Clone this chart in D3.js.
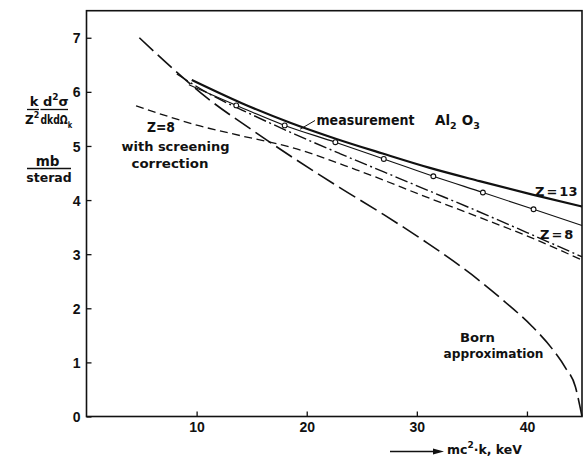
<!DOCTYPE html>
<html lang="en">
<head>
<meta charset="UTF-8" />
<title>Al2O3 bremsstrahlung cross section</title>
<script src="https://d3js.org/d3.v7.min.js"></script>
<style>
    body { margin: 0; background: #fff; }
    .lbl { font-family: "DejaVu Sans", sans-serif; font-weight: bold; fill: #111; }
    .tick text { font-family: "Liberation Sans", Arial, sans-serif; font-weight: bold; font-size: 14px; fill: #111; }
    .tick line { stroke: #111; stroke-width: 1.3; }
    .curve { fill: none; stroke: #111; }
</style>
</head>
<body>
<div id="chart"></div>
<script>
    // ticks
    const xTicks = [10, 20, 30, 40];
    const yTicks = [0, 1, 2, 3, 4, 5, 6, 7];

    // Z = 13, thick solid
    const z13X = [9.56, 14, 18.5, 22.7, 26.9, 31.1, 35.7, 40.5, 45];
    const z13Y = [6.22, 5.80, 5.43, 5.13, 4.86, 4.60, 4.35, 4.10, 3.88];

    // measurement Al2O3, thin solid with circles
    const measX = [9.3, 13.6, 18.0, 22.6, 27.0, 31.5, 36.0, 40.6, 45];
    const measY = [6.13, 5.75, 5.38, 5.07, 4.76, 4.44, 4.14, 3.83, 3.53];
    const measPointsX = [13.6, 18.0, 22.6, 27.0, 31.5, 36.0, 40.6];
    const measPointsY = [5.75, 5.38, 5.07, 4.76, 4.44, 4.14, 3.83];

    // Z = 8, dash-dot
    const z8X = [8.2, 11, 15, 19, 23, 27, 31, 35, 40, 45];
    const z8Y = [6.33, 5.98, 5.58, 5.21, 4.86, 4.52, 4.18, 3.84, 3.40, 2.95];

    // Z = 8 with screening correction, short dashes
    const scrX = [4.5, 7.5, 10.3, 14, 18.5, 24.5, 31.2, 35.7, 40.8, 45];
    const scrY = [5.74, 5.54, 5.37, 5.19, 4.98, 4.56, 4.03, 3.68, 3.27, 2.89];

    // Born approximation, long dashes
    const bornX = [4.8, 8, 11, 15, 19, 23, 27, 31, 35, 38, 40.5, 42.3, 43.5, 44.4, 44.85, 45];
    const bornY = [7.0, 6.40, 5.88, 5.30, 4.75, 4.23, 3.73, 3.20, 2.62, 2.12, 1.66, 1.25, 0.90, 0.55, 0.15, 0.0];

    const width = 583, height = 457;

    const svg = d3.select("#chart").append("svg")
        .attr("width", width)
        .attr("height", height);

    const x = d3.scaleLinear().domain([0, 45]).range([86.5, 582]);
    const y = d3.scaleLinear().domain([0, 7.5]).range([416.5, 10.7]);

    const zip = (xs, ys) => xs.map((v, i) => [v, ys[i]]);

    // frame
    svg.append("rect")
        .attr("x", x(0)).attr("y", y(7.5))
        .attr("width", x(45) - x(0)).attr("height", y(0) - y(7.5))
        .attr("fill", "none").attr("stroke", "#111").attr("stroke-width", 1.6);

    // axes, ticks pointing inward
    const gx = svg.append("g")
        .attr("transform", `translate(0,${y(0)})`)
        .call(d3.axisBottom(x).tickValues(xTicks).tickSize(-5).tickPadding(6));
    gx.select(".domain").remove();

    const gy = svg.append("g")
        .attr("transform", `translate(${x(0)},0)`)
        .call(d3.axisLeft(y).tickValues(yTicks).tickSize(-5).tickPadding(6));
    gy.select(".domain").remove();
    gy.selectAll(".tick text").attr("dy", "0.36em");

    const line = d3.line()
        .x(d => x(d[0]))
        .y(d => y(d[1]))
        .curve(d3.curveMonotoneX);

    svg.append("path").attr("class", "curve")
        .attr("d", line(zip(bornX, bornY)))
        .attr("stroke-width", 1.6)
        .attr("stroke-dasharray", "19,6");

    svg.append("path").attr("class", "curve")
        .attr("d", line(zip(scrX, scrY)))
        .attr("stroke-width", 1.3)
        .attr("stroke-dasharray", "8,4.5");

    svg.append("path").attr("class", "curve")
        .attr("d", line(zip(z8X, z8Y)))
        .attr("stroke-width", 1.4)
        .attr("stroke-dasharray", "13,3.5,2,3.5");

    svg.append("path").attr("class", "curve")
        .attr("d", line(zip(measX, measY)))
        .attr("stroke-width", 1.1);

    svg.append("path").attr("class", "curve")
        .attr("d", line(zip(z13X, z13Y)))
        .attr("stroke-width", 2.2);

    svg.selectAll("circle.pt")
        .data(zip(measPointsX, measPointsY))
        .enter().append("circle")
        .attr("class", "pt")
        .attr("cx", d => x(d[0]))
        .attr("cy", d => y(d[1]))
        .attr("r", 2.4)
        .attr("fill", "#fff")
        .attr("stroke", "#111")
        .attr("stroke-width", 1.1);

    // text helper: position, string, size, anchor, forced width
    const txt = (px, py, s, size, anchor, len) => {
        const t = svg.append("text")
            .attr("class", "lbl")
            .attr("x", px).attr("y", py)
            .attr("font-size", size)
            .attr("text-anchor", anchor || "start")
            .text(s);
        if (len) t.attr("textLength", len).attr("lengthAdjust", "spacingAndGlyphs");
        return t;
    };
    // small raised / lowered piece inside a text
    const sub = (t, s, dy, size) => t.append("tspan").attr("font-size", size || 9).attr("dy", dy).text(s);
    const rule = (x1, x2, yl) => svg.append("line")
        .attr("x1", x1).attr("x2", x2).attr("y1", yl).attr("y2", yl)
        .attr("stroke", "#111").attr("stroke-width", 1.3);

    // annotations
    txt(316.5, 125, "measurement", 13.5, "start", 98);
    const al = txt(435, 125, "Al", 13.5);
    sub(al, "2", 4, 9.5);
    al.append("tspan").attr("dx", 5).attr("dy", -4).text("O");
    sub(al, "3", 4, 9.5);
    // leader from label to measurement curve
    svg.append("line")
        .attr("x1", 315).attr("y1", 120.5)
        .attr("x2", x(19.4)).attr("y2", y(5.31))
        .attr("stroke", "#111").attr("stroke-width", 1);

    txt(535, 195.5, "Z = 13", 13).attr("word-spacing", -2.5);
    txt(540, 238.5, "Z = 8", 13).attr("word-spacing", -2.5);

    txt(147, 132, "Z=8", 13.5, "start", 28);
    txt(121.5, 150.5, "with screening", 13, "start", 108);
    txt(131.5, 168, "correction", 13, "start", 77);

    txt(460, 342, "Born", 13, "start", 35);
    txt(443.5, 358, "approximation", 13, "start", 100);

    // y-axis label: k/Z^2 d2sigma/dkdOmega_k, mb/sterad
    txt(34, 106, "k", 13, "middle");
    rule(27, 39, 109.5);
    const zz = txt(25, 124, "Z", 12);
    sub(zz, "2", -6.5, 8);

    const ds = txt(43, 106, "d", 13);
    sub(ds, "2", -6, 9);
    ds.append("tspan").attr("dy", 6).text("σ");
    rule(40.5, 68, 109.5);
    // narrow denominator: squeezed horizontally
    const dk = svg.append("text").attr("class", "lbl")
        .attr("transform", "translate(40.5,124) scale(0.74,1)")
        .attr("font-size", 12.5)
        .text("dkdΩ");
    sub(dk, "k", 3.5, 9);

    txt(47.5, 166, "mb", 13.5, "middle");
    rule(27, 71, 168.5);
    txt(49, 182, "sterad", 12.5, "middle");

    // x-axis label with arrow
    svg.append("line")
        .attr("x1", 390).attr("x2", 436)
        .attr("y1", 451.5).attr("y2", 451.5)
        .attr("stroke", "#111").attr("stroke-width", 1.3);
    svg.append("path")
        .attr("d", "M433,448.5 L444,451.5 L433,454.5 Z")
        .attr("fill", "#111");
    const xl = txt(447, 454, "mc", 12.5);
    sub(xl, "2", -6, 9);
    xl.append("tspan").attr("dy", 6).text("·k, keV");
</script>
</body>
</html>
